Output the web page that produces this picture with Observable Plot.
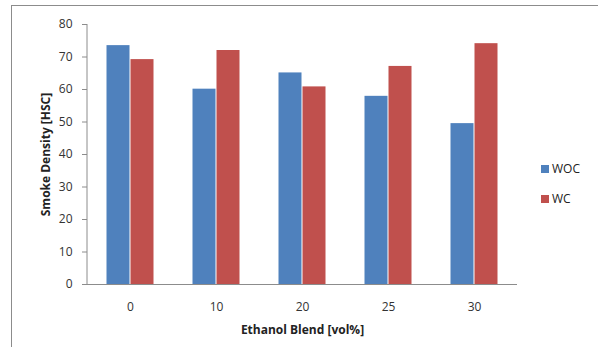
<!DOCTYPE html>
<html>
<head>
<meta charset="utf-8">
<script src="https://cdn.jsdelivr.net/npm/d3@7"></script>
<script src="https://cdn.jsdelivr.net/npm/@observablehq/plot@0.6"></script>
<style>
  html, body { margin: 0; padding: 0; background: #fff; }
  #wrap { position: relative; width: 598px; height: 347px; overflow: hidden; font-family: "Open Sans", sans-serif; }
  #border { position: absolute; left: 11px; top: 5px; width: 700px; height: 500px; border-left: 1px solid #8c8c8c; border-top: 1px solid #8c8c8c; }
  #chart { position: absolute; left: 0; top: 0; }
  .legend { position: absolute; left: 541px; font-size: 12px; color: #222; display: flex; align-items: center; }
  .legend span.sw { display: inline-block; width: 8px; height: 8px; margin-right: 3px; }
</style>
</head>
<body>
<div id="wrap">
  <div id="border"></div>
  <div id="chart"></div>
  <div id="legend"></div>
</div>
<script>
const blends = ["0", "10", "20", "25", "30"];
const seriesNames = ["WOC", "WC"];
const wocValues = [73.5, 60.1, 65.1, 57.9, 49.5];
const wcValues = [69.2, 72.0, 60.8, 67.1, 74.1];
const seriesColors = ["#4F81BD", "#C0504D"];
const yTicks = [0, 10, 20, 30, 40, 50, 60, 70, 80];
const xLabel = "Ethanol Blend [vol%]";
const yLabel = "Smoke Density [HSC]";

const data = [];
blends.forEach((b, i) => {
  data.push({blend: b, series: seriesNames[0], value: wocValues[i]});
  data.push({blend: b, series: seriesNames[1], value: wcValues[i]});
});

const chart = Plot.plot({
  width: 598,
  height: 347,
  marginTop: 24,
  marginLeft: 87,
  marginRight: 81,
  marginBottom: 63,
  style: {fontFamily: "Open Sans, sans-serif", fontSize: "12px", color: "#333", background: "transparent"},
  fx: {domain: blends, padding: 0, label: null},
  x: {domain: seriesNames, paddingInner: 0, paddingOuter: 0.75, axis: null},
  y: {domain: [0, 80], ticks: yTicks},
  color: {domain: seriesNames, range: seriesColors},
  marks: [
    Plot.barY(data, {fx: "blend", x: "series", y: "value", fill: "series", insetLeft: 0.5, insetRight: 0.5}),
    Plot.ruleY([0], {stroke: "#8c8c8c", strokeWidth: 1}),
    Plot.axisY({ticks: yTicks, tickSize: 5, tickPadding: 10, stroke: "#8c8c8c", fill: "#333", label: yLabel, labelAnchor: "center", labelArrow: "none", labelOffset: 46}),
    Plot.axisFx({anchor: "bottom", tickSize: 0, tickPadding: 18, label: xLabel, labelAnchor: "center", labelArrow: "none", labelOffset: 49, fill: "#333"})
  ]
});
document.getElementById("chart").appendChild(chart);

// style axis labels bold
chart.querySelectorAll("g[aria-label='y-axis label'] text, g[aria-label='fx-axis label'] text").forEach(t => {
  t.setAttribute("font-weight", "bold");
  t.setAttribute("fill", "#222");
});

// y-axis line
const yScale = chart.scale("y");
const axisLine = document.createElementNS("http://www.w3.org/2000/svg", "line");
axisLine.setAttribute("x1", 87); axisLine.setAttribute("x2", 87);
axisLine.setAttribute("y1", yScale.apply(80)); axisLine.setAttribute("y2", yScale.apply(0));
axisLine.setAttribute("stroke", "#8c8c8c");
chart.appendChild(axisLine);

// legend
const legend = document.getElementById("legend");
seriesNames.forEach((s, i) => {
  const d = document.createElement("div");
  d.className = "legend";
  d.style.top = (160 + i * 30) + "px";
  d.innerHTML = `<span class="sw" style="background:${seriesColors[i]}"></span>${s}`;
  legend.appendChild(d);
});
</script>
</body>
</html>
